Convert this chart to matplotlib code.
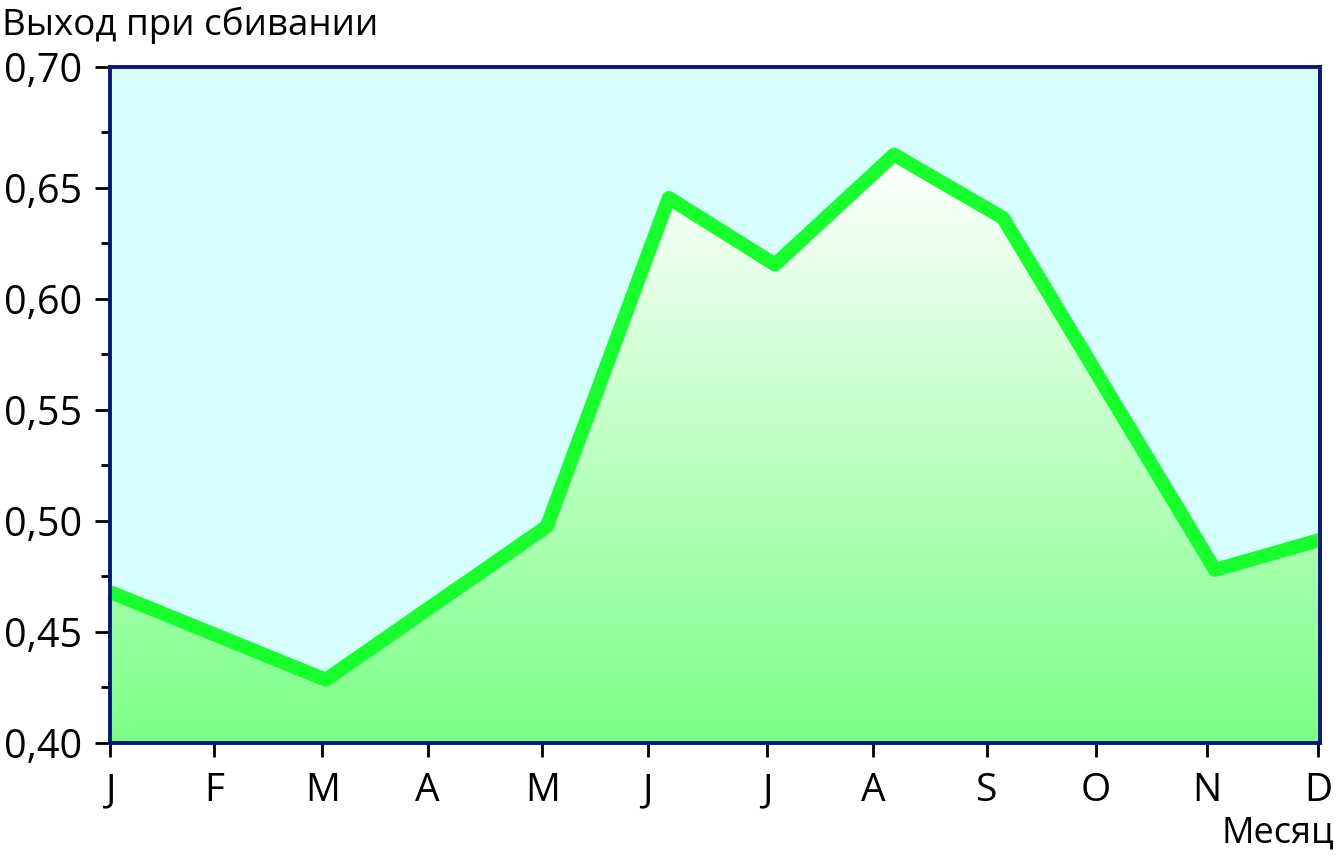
import matplotlib
matplotlib.use('Agg')
import matplotlib.pyplot as plt
import numpy as np
from matplotlib.colors import LinearSegmentedColormap
from matplotlib.patches import Polygon

# ---- data ----
month_labels = ['J', 'F', 'M', 'A', 'M', 'J', 'J', 'A', 'S', 'O', 'N', 'D']
month_ticks = [0.0, 0.948, 1.930, 2.888, 3.930, 4.888, 5.975, 6.939, 7.970, 8.964, 9.975, 10.985]
x_pts = [0.0, 1.961, 3.970, 5.080, 6.045, 7.127, 8.118, 10.045, 11.0]
yield_vals = [0.468, 0.4285, 0.4975, 0.6455, 0.6155, 0.665, 0.6365, 0.478, 0.4915]
y_major = [0.40, 0.45, 0.50, 0.55, 0.60, 0.65]
y_minor = [0.425, 0.475, 0.525, 0.575, 0.625, 0.675]
y_top = 0.7045
y_labels = ['0,40', '0,45', '0,50', '0,55', '0,60', '0,65', '0,70']

plt.rcParams['font.family'] = ['Open Sans', 'DejaVu Sans']

fig = plt.figure(figsize=(13.36, 8.64), dpi=100)
W, H = 1336, 864
ax = fig.add_axes([110 / W, (H - 743) / H, 1210 / W, 676 / H])
ax.set_facecolor('#d6ffff')
ax.set_xlim(0, 11)
ax.set_ylim(0.40, y_top)

# gradient fill under the line
cmap = LinearSegmentedColormap.from_list('g', ['#7cff86', '#ffffff'])
grad = np.linspace(0, 1, 256).reshape(-1, 1)
ymax = max(yield_vals)
im = ax.imshow(grad, extent=[0, 11, 0.40, ymax], origin='lower', aspect='auto',
               cmap=cmap, zorder=1)
verts = [(x_pts[0], 0.40)] + list(zip(x_pts, yield_vals)) + [(x_pts[-1], 0.40)]
poly = Polygon(verts, closed=True, transform=ax.transData, facecolor='none', edgecolor='none')
ax.add_patch(poly)
im.set_clip_path(poly)

ax.plot(x_pts, yield_vals, color='#16ff2c', lw=10, solid_joinstyle='round',
        solid_capstyle='butt', zorder=2, clip_on=False)

for s in ax.spines.values():
    s.set_color('#0b1580')
    s.set_linewidth(2.8)
    s.set_zorder(5)

ax.set_xticks(month_ticks)
ax.set_xticklabels(month_labels)
ax.set_yticks(y_major + [y_top])
ax.set_yticklabels(y_labels)
ax.set_yticks(y_minor, minor=True)
ax.tick_params(axis='x', which='major', length=10, width=2, pad=11, labelsize=28, direction='out')
ax.tick_params(axis='y', which='major', length=11, width=2, pad=9, labelsize=28.5, direction='out')
ax.tick_params(axis='y', which='minor', length=6.5, width=2, direction='out')
ax.tick_params(axis='x', which='minor', length=0)

fig.text(2 / W, 1 - 35 / H, 'Выход при сбивании', fontsize=26.5, ha='left', va='baseline')
fig.text(1334 / W, 1 - 843 / H, 'Месяц', fontsize=26, ha='right', va='baseline')

fig.savefig('out.png', dpi=100)
